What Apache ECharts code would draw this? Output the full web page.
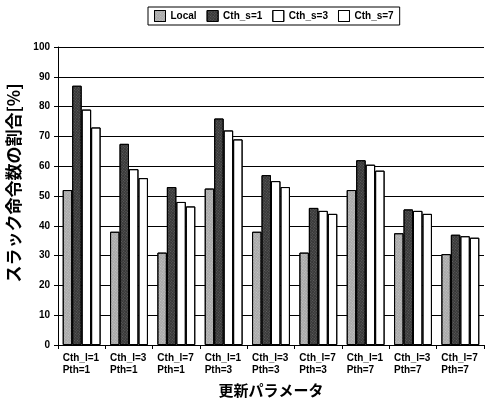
<!DOCTYPE html>
<html><head><meta charset="utf-8">
<script src="https://cdn.jsdelivr.net/npm/echarts@6/dist/echarts.min.js"></script>
<style>html,body{margin:0;padding:0;background:#fff}#c{width:486px;height:402px}</style>
</head><body><div id="c"></div>
<script>
const categories = ["Cth_l=1\nPth=1","Cth_l=3\nPth=1","Cth_l=7\nPth=1","Cth_l=1\nPth=3","Cth_l=3\nPth=3","Cth_l=7\nPth=3","Cth_l=1\nPth=7","Cth_l=3\nPth=7","Cth_l=7\nPth=7"];
const seriesNames = ["Local","Cth_s=1","Cth_s=3","Cth_s=7"];
const local = [52, 38, 31, 52.5, 38, 31, 52, 37.5, 30.5];
const cths1 = [87, 67.5, 53, 76, 57, 46, 62, 45.5, 37];
const cths3 = [79, 59, 48, 72, 55, 45, 60.5, 45, 36.5];
const cths7 = [73, 56, 46.5, 69, 53, 44, 58.5, 44, 36];
const yTicks = [0,10,20,30,40,50,60,70,80,90,100];

const chart = echarts.init(document.getElementById('c'));
const font = 'Arial, "Liberation Sans", sans-serif';
const fills = ['#a8a8a8', '#383838', '#ffffff', '#ffffff'];
const data = [local, cths1, cths3, cths7];
const decals = [
  {symbol: 'rect', symbolSize: 1, dashArrayX: [1, 1], dashArrayY: [1, 1], color: 'rgba(255,255,255,0.35)', rotation: 0.7},
  {symbol: 'rect', symbolSize: 1, dashArrayX: [1, 1], dashArrayY: [1, 1], color: 'rgba(140,140,140,0.5)', rotation: 0.7},
  {symbol: 'none'},
  {symbol: 'none'}
];
chart.setOption({
  animation: false,
  aria: {enabled: true, decal: {show: true}},
  textStyle: {fontFamily: font},
  legend: {
    top: 7, left: 148, itemGap: 10, itemWidth: 11, itemHeight: 11, icon: 'rect',
    borderColor: '#000', borderWidth: 1, padding: [3, 6, 3, 6],
    textStyle: {fontSize: 10, fontWeight: 'bold', color: '#000', fontFamily: font},
    data: seriesNames.map(n => ({name: n, itemStyle: {borderColor: '#000', borderWidth: 1}}))
  },
  grid: {left: 58, right: 2, top: 47, bottom: 57, containLabel: false, outerBoundsMode: 'none'},
  xAxis: {
    type: 'category', data: categories,
    name: '更新パラメータ', nameLocation: 'middle', nameGap: 38,
    nameTextStyle: {fontSize: 15, fontWeight: 'bold', color: '#000', fontFamily: '"Noto Sans CJK JP", sans-serif'},
    axisLine: {lineStyle: {color: '#000', width: 1}},
    axisTick: {show: true, alignWithLabel: false, length: 4, lineStyle: {color: '#000'}},
    axisLabel: {interval: 0, fontSize: 10, fontWeight: 'bold', color: '#000', lineHeight: 12, align: 'left', margin: 7,
      formatter: v => v, padding: [0,0,0,-19]}
  },
  yAxis: {
    type: 'value', min: 0, max: 100, interval: 10,
    name: 'スラック命令数の割合[%]', nameLocation: 'middle', nameGap: 31, nameRotate: 90,
    nameTextStyle: {fontSize: 17, fontWeight: 'bold', color: '#000', fontFamily: '"Noto Sans CJK JP", sans-serif', padding: [0, 0, 0, 26]},
    axisLine: {show: true, lineStyle: {color: '#000'}},
    axisTick: {show: true, length: 4, lineStyle: {color: '#000'}},
    axisLabel: {fontSize: 10, fontWeight: 'bold', color: '#000', margin: 8,
      formatter: v => yTicks.includes(v) ? String(v) : ''},
    splitLine: {show: true, lineStyle: {color: '#000', width: 1}}
  },
  series: seriesNames.map((n, i) => ({
    name: n, type: 'bar', data: data[i],
    barGap: '0%', barCategoryGap: '20%',
    itemStyle: {color: fills[i], borderColor: '#000', borderWidth: 1, decal: decals[i]}
  }))
});
</script></body></html>
